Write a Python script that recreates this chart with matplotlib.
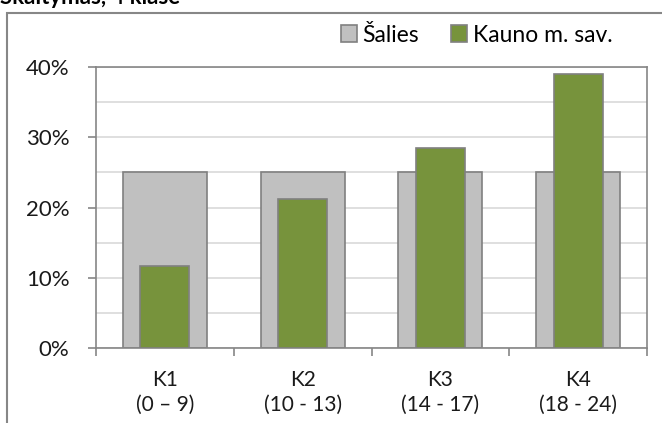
import numpy as np
import matplotlib.pyplot as plt
from matplotlib.patches import Rectangle
from matplotlib.ticker import FuncFormatter, MultipleLocator

plt.rcParams['font.family'] = ['Lato', 'DejaVu Sans']

# duomenys
categories = ['K1\n(0 – 9)', 'K2\n(10 - 13)', 'K3\n(14 - 17)', 'K4\n(18 - 24)']
salies = [25, 25, 25, 25]
kaunas = [11.7, 21.2, 28.5, 39.0]

gray = '#C0C0C0'
green = '#77933C'
edge = '#808080'

fig = plt.figure(figsize=(6.62, 4.23), dpi=100)
ax = fig.add_axes([96 / 662, 1 - 348 / 423, (647 - 96) / 662, (348 - 67) / 423])

x = np.arange(len(categories))

ax.bar(x, salies, width=0.61, color=gray, edgecolor=edge, linewidth=1.2,
       label='Šalies', zorder=2)
ax.bar(x, kaunas, width=0.356, color=green, edgecolor=edge, linewidth=1.2,
       label='Kauno m. sav.', zorder=3)

ax.set_xlim(-0.5, 3.5)
ax.set_ylim(0, 40)

# pagalbinės linijos kas 5 %
ax.yaxis.set_major_locator(MultipleLocator(10))
ax.yaxis.set_minor_locator(MultipleLocator(5))
ax.grid(axis='y', which='both', color='#D9D9D9', linewidth=1.2, zorder=0)
ax.set_axisbelow(True)
ax.yaxis.set_major_formatter(FuncFormatter(lambda v, p: f'{v:.0f}%'))

ax.set_xticks(x)
ax.set_xticklabels(categories, fontsize=15, color='#1a1a1a', linespacing=1.3)
ax.set_xticks(np.arange(-0.5, 4, 1), minor=True)
ax.tick_params(axis='x', which='major', length=0, pad=16)
ax.tick_params(axis='x', which='minor', length=6, color='#868686', width=1.2)
ax.tick_params(axis='y', which='major', length=6, color='#868686', width=1.2,
               labelsize=16, pad=13)
ax.tick_params(axis='y', which='minor', length=0)
for lab in ax.get_yticklabels():
    lab.set_color('#1a1a1a')

for side in ['left', 'bottom', 'right', 'top']:
    ax.spines[side].set_color('#868686')
    ax.spines[side].set_linewidth(1.2)

ax.legend(loc='lower right', bbox_to_anchor=(624 / 662, 1 - 57 / 423),
          bbox_transform=fig.transFigure, ncol=2, frameon=False,
          fontsize=16.5, handlelength=0.7, handleheight=0.7,
          handletextpad=0.25, columnspacing=1.4, borderpad=0)

# išorinis rėmelis
fig.patches.append(Rectangle((7 / 662, -0.1), 1.2, 1.1 - 13 / 423,
                             transform=fig.transFigure, fill=False,
                             edgecolor='#878787', linewidth=1.5))

fig.text(0.0, 1 - 4 / 423, 'Skaitymas, 4 klasė', fontsize=16,
         fontweight='bold', va='baseline', ha='left', color='black')

fig.savefig('out.png', dpi=100)
